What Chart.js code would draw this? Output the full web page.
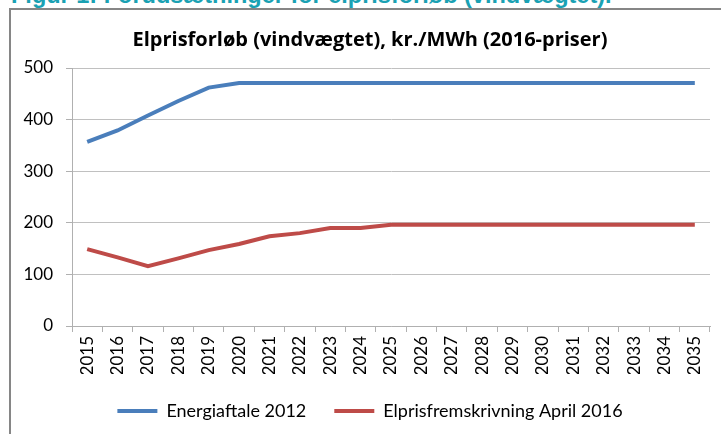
<!DOCTYPE html>
<html>
<head>
<meta charset="utf-8">
<script src="https://cdn.jsdelivr.net/npm/chart.js@4"></script>
<style>
    html, body { margin: 0; padding: 0; background: #fff; overflow: hidden; }
    body { width: 721px; height: 434px; position: relative; }
    #figTitle {
        position: absolute; left: 11px; top: -16px;
        font: bold 23.5px "Liberation Sans", Arial, sans-serif;
        line-height: 23.5px; color: #1aa1b3; white-space: nowrap;
    }
    #frame {
        position: absolute; left: 9px; top: 8px; width: 760px; height: 460px;
        border-left: 2px solid #868686; border-top: 2px solid #868686;
    }
    #wrap { position: absolute; left: 0; top: 0; width: 730px; height: 434px; }
</style>
</head>
<body>
<div id="figTitle">Figur 1: Forudsætninger for elprisforløb (vindvægtet).</div>
<div id="frame"></div>
<div id="wrap"><canvas id="chart"></canvas></div>
<script>
// Elpris chart - two price paths, kr./MWh
const years = ['2015', '2016', '2017', '2018', '2019', '2020', '2021', '2022', '2023', '2024', '2025',
               '2026', '2027', '2028', '2029', '2030', '2031', '2032', '2033', '2034', '2035'];
const energiaftale = [357, 379, 408, 436, 462, 471, 471, 471, 471, 471, 471,
                      471, 471, 471, 471, 471, 471, 471, 471, 471, 471];
const fremskrivning = [149, 133, 116, 131, 147, 159, 174, 180, 190, 190, 196,
                       196, 196, 196, 196, 196, 196, 196, 196, 196, 196];
const yTicks = [0, 100, 200, 300, 400, 500];

const BLUE = '#4a7ebb';
const RED = '#be4b48';
const FONT = 'Lato, "Open Sans", sans-serif';

new Chart(document.getElementById('chart'), {
    type: 'line',
    data: {
        labels: years,
        datasets: [{
            label: 'Energiaftale 2012',
            data: energiaftale,
            borderColor: BLUE,
            backgroundColor: BLUE,
            borderWidth: 4,
            pointRadius: 0,
            tension: 0
        }, {
            label: 'Elprisfremskrivning April 2016',
            data: fremskrivning,
            borderColor: RED,
            backgroundColor: RED,
            borderWidth: 4,
            pointRadius: 0,
            tension: 0
        }]
    },
    options: {
        responsive: true,
        maintainAspectRatio: false,
        animation: false,
        layout: { padding: { left: 10, right: 0, top: 8, bottom: 4 } },
        plugins: {
            title: {
                display: true,
                text: 'Elprisforløb (vindvægtet), kr./MWh (2016-priser)',
                color: '#000',
                font: { family: '"Open Sans", Lato, sans-serif', size: 20, weight: 'bold' },
                padding: { top: 20, bottom: 16 }
            },
            legend: {
                position: 'bottom',
                labels: {
                    color: '#000',
                    font: { family: FONT, size: 18 },
                    boxWidth: 40,
                    boxHeight: 4,
                    padding: 28,
                    generateLabels(chart) {
                        return Chart.defaults.plugins.legend.labels.generateLabels(chart)
                            .map(item => Object.assign(item, { lineWidth: 0 }));
                    }
                }
            },
            tooltip: { enabled: false }
        },
        scales: {
            x: {
                offset: true,
                afterFit(scale) { scale.height = 48; },
                grid: {
                    offset: true,
                    drawOnChartArea: false,
                    tickLength: 6,
                    tickColor: '#b0b0b0'
                },
                border: { color: '#b0b0b0' },
                ticks: {
                    color: '#000',
                    font: { family: FONT, size: 17 },
                    minRotation: 90,
                    maxRotation: 90,
                    padding: 4,
                    autoSkip: false
                }
            },
            y: {
                min: 0,
                max: 500,
                afterFit(scale) { scale.width = 62; },
                afterBuildTicks(scale) { scale.ticks = yTicks.map(v => ({ value: v })); },
                grid: {
                    color: '#c0c0c0',
                    tickLength: 6,
                    tickColor: '#b0b0b0'
                },
                border: { color: '#b0b0b0' },
                ticks: {
                    color: '#000',
                    font: { family: FONT, size: 17 },
                    padding: 13
                }
            },
            // empty right axis so the chart box runs past the window edge like the original
            y2: {
                position: 'right',
                display: true,
                afterFit(scale) { scale.width = 20; },
                grid: { display: false },
                border: { display: false },
                ticks: { display: false }
            }
        }
    }
});
</script>
</body>
</html>
